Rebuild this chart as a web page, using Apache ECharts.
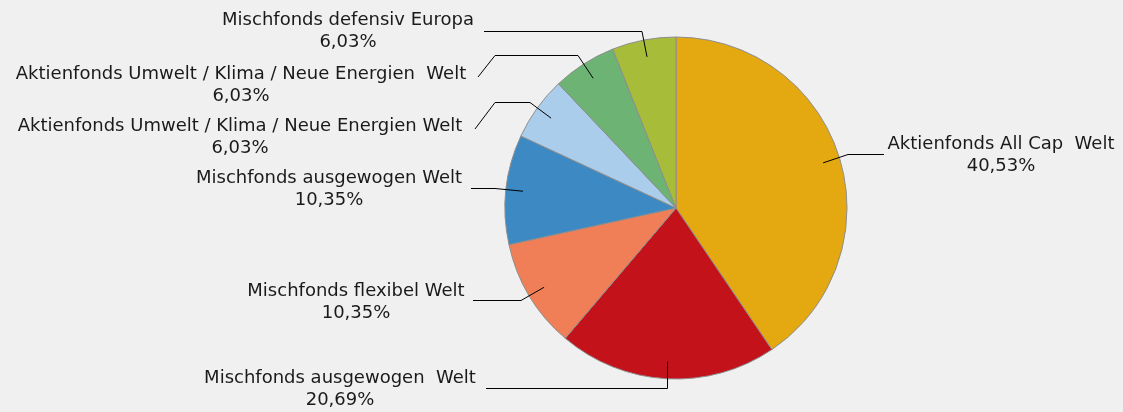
<!DOCTYPE html>
<html>
<head>
<meta charset="utf-8">
<style>
html,body{margin:0;padding:0;background:#f0f0f0;}
#chart{width:1123px;height:412px;}
</style>
<script src="https://cdn.jsdelivr.net/npm/echarts@6/dist/echarts.min.js"></script>
</head>
<body>
<div id="chart"></div>
<script>
// Daten (Anteile in %)
var names = [
	"Aktienfonds All Cap  Welt",
	"Mischfonds ausgewogen  Welt",
	"Mischfonds flexibel Welt",
	"Mischfonds ausgewogen Welt",
	"Aktienfonds Umwelt / Klima / Neue Energien Welt",
	"Aktienfonds Umwelt / Klima / Neue Energien  Welt",
	"Mischfonds defensiv Europa"
];
var values = [40.53, 20.69, 10.35, 10.35, 6.03, 6.03, 6.03];
var colors = ["#e4a811", "#c4121b", "#f07f58", "#3c89c3", "#abcdec", "#6db373", "#a7bd3a"];

// Lage der Beschriftungen und Knickpunkte der Führungslinien
var center = [676, 208];
var radius = 171;
var labelPos = [[1001, 155], [340, 389], [356, 302], [329, 189], [240, 137], [241, 85], [348, 31]];
var guides = [
	[[848, 154.5], [884, 154.5]],
	[[667.5, 388.5], [486, 388.5]],
	[[521, 300.5], [473, 300.5]],
	[[495, 188.5], [471, 188.5]],
	[[530, 102.5], [495, 102.5], [475, 129]],
	[[578, 55.5], [495, 55.5], [478, 77]],
	[[642, 31.5], [484, 31.5]]
];

var total = 0;
for (var k = 0; k < values.length; k++) total += values[k];

// Ankerpunkt im Segment (90% des Radius auf der Mittellinie)
function anchor(i) {
	var before = 0;
	for (var j = 0; j < i; j++) before += values[j];
	var a = (before + values[i] / 2) / total * 2 * Math.PI;
	return [center[0] + 0.9 * radius * Math.sin(a), center[1] - 0.9 * radius * Math.cos(a)];
}

var data = [], labelData = [];
for (var i = 0; i < names.length; i++) {
	data.push({name: names[i], value: values[i], itemStyle: {color: colors[i]}});
	labelData.push({name: names[i], value: values[i]});
}

var myChart = echarts.init(document.getElementById('chart'));
var option = {
	backgroundColor: '#f0f0f0',
	animation: false,
	series: [
		{
			type: 'pie',
			center: center,
			radius: radius,
			startAngle: 90,
			clockwise: true,
			silent: true,
			itemStyle: {borderColor: '#8e8e8e', borderWidth: 1},
			label: {show: false},
			labelLine: {show: false},
			data: data
		},
		{
			// unsichtbare Kopie nur für Beschriftungen, damit die Linien über den Segmenten liegen
			type: 'pie',
			z: 5,
			center: center,
			radius: radius,
			startAngle: 90,
			clockwise: true,
			silent: true,
			avoidLabelOverlap: false,
			itemStyle: {color: 'rgba(0,0,0,0)', borderWidth: 0},
			label: {
				show: true,
				color: '#1a1a1a',
				fontFamily: 'DejaVu Sans',
				fontSize: 18,
				lineHeight: 22,
				align: 'center',
				formatter: function (p) {
					return p.name + '\n' + p.value.toFixed(2).replace('.', ',') + '%';
				}
			},
			labelLine: {show: true, showAbove: true, lineStyle: {color: '#000', width: 1}},
			labelLayout: function (p) {
				var i = p.dataIndex;
				return {
					x: labelPos[i][0],
					y: labelPos[i][1],
					align: 'center',
					verticalAlign: 'middle',
					labelLinePoints: [anchor(i)].concat(guides[i])
				};
			},
			data: labelData
		}
	]
};
myChart.setOption(option);
</script>
</body>
</html>
